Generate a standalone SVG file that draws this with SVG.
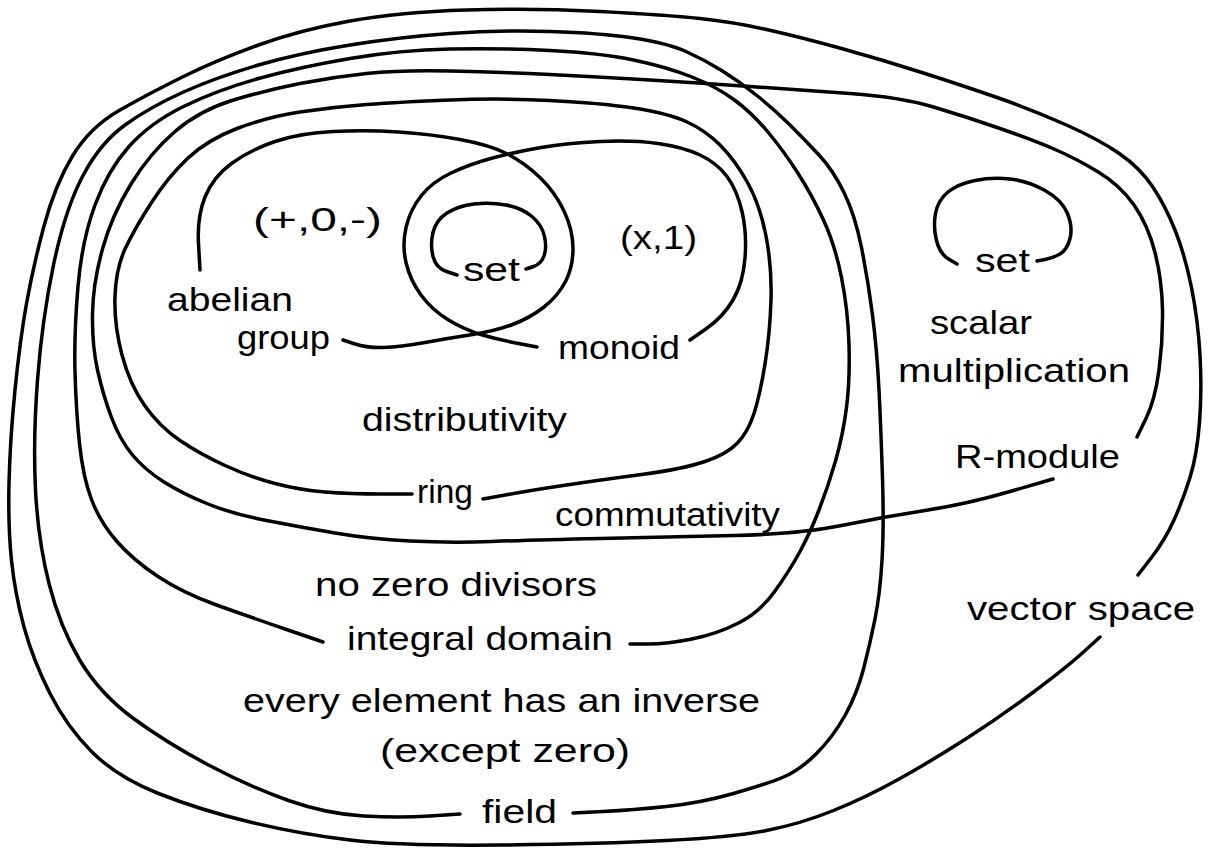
<svg xmlns="http://www.w3.org/2000/svg" width="1210" height="854" viewBox="0 0 1210 854">
<style>
.curve{fill:none;stroke:#000;stroke-width:3.5;stroke-linecap:round;stroke-linejoin:round}
.lbl{font-family:"Liberation Sans",Arial,sans-serif;font-size:34px;fill:#000}
</style>
<rect width="1210" height="854" fill="#fff"/>
<g id="vector-space">
<path class="curve" d="M1100,637 L1083.5,652 Q1067,667 1033.5,692 Q1000,717 966.5,738.5 Q933,760 900,778.5 Q867,797 833.5,810.5 Q800,824 766.5,830.5 Q733,837 666.5,840.5 Q600,844 500,845 Q400,846 350,840 Q300,834 250,822 Q200,810 158.5,793.5 Q117,777 92,752 Q67,727 50,693.5 Q33,660 24,627 Q15,594 11.5,560.5 Q8,527 9,483.5 Q10,440 15,390 Q20,340 26.5,303.5 Q33,267 44,226 Q55,185 72.5,156 Q90,127 120,110 Q150,93 183.5,76.5 Q217,60 258.5,45 Q300,30 350,21 Q400,12 466.5,10 Q533,8 600,11.5 Q667,15 700,18.5 Q733,22 766.5,29.5 Q800,37 841.5,48.5 Q883,60 925,73.5 Q967,87 1000,98.5 Q1033,110 1066.5,125 Q1100,140 1120,154 Q1140,168 1152.5,186.5 Q1165,205 1175,230 Q1185,255 1191.5,287.5 Q1198,320 1200,355 Q1202,390 1199.5,422.5 Q1197,455 1190,477.5 Q1183,500 1174,520 Q1165,540 1151.5,557.5 L1138,575"/>
<text class="lbl" x="967" y="620" textLength="228" lengthAdjust="spacingAndGlyphs">vector space</text>
</g>
<g id="field">
<path class="curve" d="M460,814 L430,816 Q400,818 363.5,816 Q327,814 288.5,800.5 Q250,787 208.5,765 Q167,743 133.5,718.5 Q100,694 80,660.5 Q60,627 49,583.5 Q38,540 35.5,490 Q33,440 37.5,380 Q42,320 53.5,265 Q65,210 82.5,176.5 Q100,143 125,125 Q150,107 183.5,92 Q217,77 258.5,65 Q300,53 350,45 Q400,37 450,33.5 Q500,30 550,31.5 Q600,33 633.5,38 Q667,43 686,51.5 Q705,60 722.5,71 Q740,82 757.5,96 Q775,110 790,125 Q805,140 819,155 Q833,170 844,192.5 Q855,215 861.5,247.5 Q868,280 872.5,315 Q877,350 879,390 Q881,430 882.5,478.5 Q884,527 882,560.5 Q880,594 875,619 Q870,644 863.5,669 Q857,694 845,715.5 Q833,737 816.5,753.5 Q800,770 783.5,777 Q767,784 733.5,793.5 Q700,803 666.5,806.5 Q633,810 603,811.5 L573,813"/>
<text class="lbl" x="243" y="712" textLength="517" lengthAdjust="spacingAndGlyphs">every element has an inverse</text>
<text class="lbl" x="380" y="762" textLength="250" lengthAdjust="spacingAndGlyphs">(except zero)</text>
<text class="lbl" x="482" y="823" textLength="75" lengthAdjust="spacingAndGlyphs">field</text>
</g>
<g id="integral-domain">
<path class="curve" d="M323,642 L286.5,629.5 Q250,617 216.5,605 Q183,593 158,576.5 Q133,560 116.5,541 Q100,522 91.5,499.5 Q83,477 79.5,443.5 Q76,410 75,371.5 Q74,333 78,286.5 Q82,240 95,205 Q108,170 129,146.5 Q150,123 183.5,106.5 Q217,90 258.5,78.5 Q300,67 350,58.5 Q400,50 450,49 Q500,48 550,50.5 Q600,53 633.5,60 Q667,67 692,77 Q717,87 734.5,100 Q752,113 767.5,131.5 Q783,150 797.5,172.5 Q812,195 823.5,220 Q835,245 841.5,277.5 Q848,310 849,345 Q850,380 846.5,407.5 Q843,435 835.5,461 Q828,487 819,510 Q810,533 800,551.5 Q790,570 775,591 Q760,612 738.5,623 Q717,634 692,639 Q667,644 648.5,644 L630,644"/>
<text class="lbl" x="555" y="526" textLength="225" lengthAdjust="spacingAndGlyphs">commutativity</text>
<text class="lbl" x="315" y="596" textLength="282" lengthAdjust="spacingAndGlyphs">no zero divisors</text>
<text class="lbl" x="347" y="650" textLength="266" lengthAdjust="spacingAndGlyphs">integral domain</text>
</g>
<g id="r-module">
<path class="curve" d="M1137,437 L1146,418.5 Q1155,400 1159,370 Q1163,340 1162.5,310 Q1162,280 1155,252.5 Q1148,225 1134,205 Q1120,185 1097.5,171.5 Q1075,158 1054,149 Q1033,140 1000,128.5 Q967,117 933.5,107 Q900,97 850,93.5 Q800,90 750,86.5 Q700,83 650,80 Q600,77 550,74.5 Q500,72 450,71 Q400,70 366.5,73.5 Q333,77 300,83.5 Q267,90 233.5,100 Q200,110 175,131.5 Q150,153 131,184 Q112,215 102.5,249 Q93,283 92.5,314 Q92,345 97.5,370 Q103,395 111.5,417.5 Q120,440 132.5,455 Q145,470 164,482 Q183,494 208,504 Q233,514 266.5,520.5 Q300,527 335,533 Q370,539 410,541 Q450,543 491.5,541.5 Q533,540 600,538.5 Q667,537 733.5,535.5 Q800,534 841.5,525.5 Q883,517 925,510.5 Q967,504 1010,491.5 L1053,479"/>
<path class="curve" d="M957,264 L948.5,259 Q940,254 936.5,240.5 Q933,227 935.5,213.5 Q938,200 948,192 Q958,184 975,180.5 Q992,177 1010,179 Q1028,181 1045,190.5 Q1062,200 1067.5,213.5 Q1073,227 1070,238.5 Q1067,250 1060,254 Q1053,258 1045,259.5 L1037,261"/>
<text class="lbl" x="975" y="272" textLength="55" lengthAdjust="spacingAndGlyphs">set</text>
<text class="lbl" x="930" y="334" textLength="102" lengthAdjust="spacingAndGlyphs">scalar</text>
<text class="lbl" x="898" y="382" textLength="232" lengthAdjust="spacingAndGlyphs">multiplication</text>
<text class="lbl" x="955" y="468" textLength="165" lengthAdjust="spacingAndGlyphs">R-module</text>
</g>
<g id="ring">
<path class="curve" d="M412,494 L381,494 Q350,494 325,492 Q300,490 275,483.5 Q250,477 225,465.5 Q200,454 180,440.5 Q160,427 145,406 Q130,385 122,355 Q114,325 115,296.5 Q116,268 125.5,248 Q135,228 151.5,202.5 Q168,177 187.5,158.5 Q207,140 237,128.5 Q267,117 300,112 Q333,107 366.5,104.5 Q400,102 450,100 Q500,98 550,100.5 Q600,103 633.5,108 Q667,113 686,121.5 Q705,130 720,145 Q735,160 747.5,182.5 Q760,205 766,236 Q772,267 771,300 Q770,333 765,364 Q760,395 754,413.5 Q748,432 737.5,443 Q727,454 705,461.5 Q683,469 641.5,474.5 Q600,480 566.5,485 Q533,490 508,494.5 L483,499"/>
<text class="lbl" x="362" y="431" textLength="205" lengthAdjust="spacingAndGlyphs">distributivity</text>
<text class="lbl" x="417" y="503" textLength="56" lengthAdjust="spacingAndGlyphs">ring</text>
</g>
<g id="abelian-group">
<path class="curve" d="M200,270 L198.5,243.5 Q197,217 205,197 Q213,177 231.5,163.5 Q250,150 275,141.5 Q300,133 333.5,131.5 Q367,130 398.5,132 Q430,134 460,139.5 Q490,145 507.5,154 Q525,163 540,177.5 Q555,192 564,211 Q573,230 573,248.5 Q573,267 565.5,281.5 Q558,296 544,307 Q530,318 512.5,324.5 Q495,331 472.5,334.5 Q450,338 425,342.5 Q400,347 383.5,347.5 Q367,348 355,344 L343,340"/>
<text class="lbl" x="253" y="231" textLength="129" lengthAdjust="spacingAndGlyphs">(+,0,-)</text>
<text class="lbl" x="167" y="311" textLength="126" lengthAdjust="spacingAndGlyphs">abelian</text>
<text class="lbl" x="237" y="349" textLength="93" lengthAdjust="spacingAndGlyphs">group</text>
</g>
<g id="monoid">
<path class="curve" d="M537,347 L518.5,343.5 Q500,340 482.5,335 Q465,330 448.5,320 Q432,310 421,295 Q410,280 406,262.5 Q402,245 406,227.5 Q410,210 421,196 Q432,182 451,173 Q470,164 492.5,158 Q515,152 541,147.5 Q567,143 600,141.5 Q633,140 658,143.5 Q683,147 700,155 Q717,163 727,176.5 Q737,190 742,211.5 Q747,233 745,258 Q743,283 733,300 Q723,317 706.5,328.5 L690,340"/>
<text class="lbl" x="620" y="249" textLength="77" lengthAdjust="spacingAndGlyphs">(x,1)</text>
<text class="lbl" x="558" y="359" textLength="122" lengthAdjust="spacingAndGlyphs">monoid</text>
</g>
<g id="set">
<path class="curve" d="M457,275 L446.5,271.5 Q436,268 433,256.5 Q430,245 433,232.5 Q436,220 447,213 Q458,206 474,204 Q490,202 506,205 Q522,208 532,216.5 Q542,225 544.5,236.5 Q547,248 544,256 Q541,264 533.5,266.5 L526,269"/>
<text class="lbl" x="463" y="281" textLength="57" lengthAdjust="spacingAndGlyphs">set</text>
</g>
<g id="connectors"></g>
</svg>
